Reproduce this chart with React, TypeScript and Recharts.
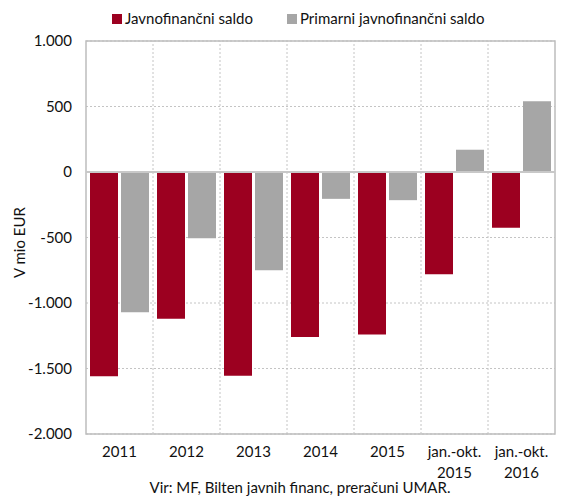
import React from "react";
import {
  BarChart,
  Bar,
  XAxis,
  YAxis,
  CartesianGrid,
  ReferenceLine,
  ReferenceArea,
} from "recharts";

const categories = ["2011", "2012", "2013", "2014", "2015", "jan.-okt. 2015", "jan.-okt. 2016"];
const javnofinancniSaldo = [-1560, -1120, -1555, -1260, -1240, -780, -425];
const primarniSaldo = [-1070, -505, -750, -205, -215, 170, 540];
const yTicks = [-2000, -1500, -1000, -500, 0, 500, 1000];

const data = categories.map((c, i) => ({
  cat: c,
  js: javnofinancniSaldo[i],
  ps: primarniSaldo[i],
}));

const FONT = "Lato, 'Noto Sans', sans-serif";
const RED = "#9c0020";
const GRAY = "#a6a6a6";

const fmt = (v: number) => {
  const s = Math.abs(v).toString().replace(/\B(?=(\d{3})+(?!\d))/g, ".");
  return (v < 0 ? "-" : "") + s;
};

const XTick = (props: any) => {
  const { x, y, payload } = props;
  const val: string = payload.value;
  const parts = val.startsWith("jan") ? val.split(" ") : [val];
  return (
    <g transform={`translate(${x},${y})`}>
      {parts.map((p, i) => (
        <text
          key={i}
          x={0}
          y={15 + i * 21}
          textAnchor="middle"
          fill="#111"
          fontSize={15}
          fontFamily={FONT}
        >
          {p}
        </text>
      ))}
    </g>
  );
};

const YTick = (props: any) => {
  const { x, y, payload } = props;
  return (
    <text x={x - 6} y={y + 5} textAnchor="end" fill="#111" fontSize={15} fontFamily={FONT}>
      {fmt(payload.value)}
    </text>
  );
};

export default function App() {
  return (
    <div style={{ position: "absolute", left: 0, top: 0, width: 565, height: 496, background: "#fff" }}>
      <BarChart
        width={565}
        height={496}
        data={data}
        margin={{ top: 41, right: 10, bottom: 32, left: 0 }}
        barSize={28}
        barGap={3}
      >
        <CartesianGrid stroke="#c4c4c4" strokeDasharray="2 2" vertical={false} />
        <XAxis dataKey="cat" tick={<XTick />} tickLine={false} axisLine={false} interval={0} />
        <YAxis
          width={86}
          domain={[-2000, 1000]}
          ticks={yTicks}
          tick={<YTick />}
          tickLine={false}
          axisLine={false}
          interval={0}
          label={{
            value: "V mio EUR",
            angle: -90,
            position: "insideLeft",
            dx: 15,
            dy: 5,
            style: { fontFamily: FONT, fontSize: 15, fill: "#111", textAnchor: "middle" },
          }}
        />
        {categories.slice(1).map((c) => (
          <ReferenceLine key={c} x={c} position="start" stroke="#c4c4c4" strokeDasharray="2 2" />
        ))}
        <ReferenceArea y1={-2000} y2={1000} fill="none" stroke="#bdbdbd" strokeWidth={1.5} ifOverflow="visible" />
        <Bar dataKey="js" name="Javnofinančni saldo" fill={RED} isAnimationActive={false} />
        <Bar dataKey="ps" name="Primarni javnofinančni saldo" fill={GRAY} isAnimationActive={false} />
        <ReferenceLine y={0} stroke="#c8c8c8" strokeWidth={2} />
      </BarChart>
      <div style={{ position: "absolute", left: 0, top: 0, width: 565, height: 30, fontFamily: FONT, fontSize: 15, color: "#111" }}>
        <div style={{ position: "absolute", left: 112, top: 14, width: 10, height: 10, background: RED }} />
        <div style={{ position: "absolute", left: 125, top: 9, whiteSpace: "nowrap" }}>Javnofinančni saldo</div>
        <div style={{ position: "absolute", left: 287, top: 14, width: 10, height: 10, background: GRAY }} />
        <div style={{ position: "absolute", left: 300, top: 9, whiteSpace: "nowrap" }}>Primarni javnofinančni saldo</div>
      </div>
      <div
        style={{
          position: "absolute",
          left: 0,
          width: 600,
          top: 478,
          textAlign: "center",
          fontFamily: FONT,
          fontSize: 15,
          color: "#111",
          whiteSpace: "nowrap",
        }}
      >
        Vir: MF, Bilten javnih financ, preračuni UMAR.
      </div>
    </div>
  );
}
